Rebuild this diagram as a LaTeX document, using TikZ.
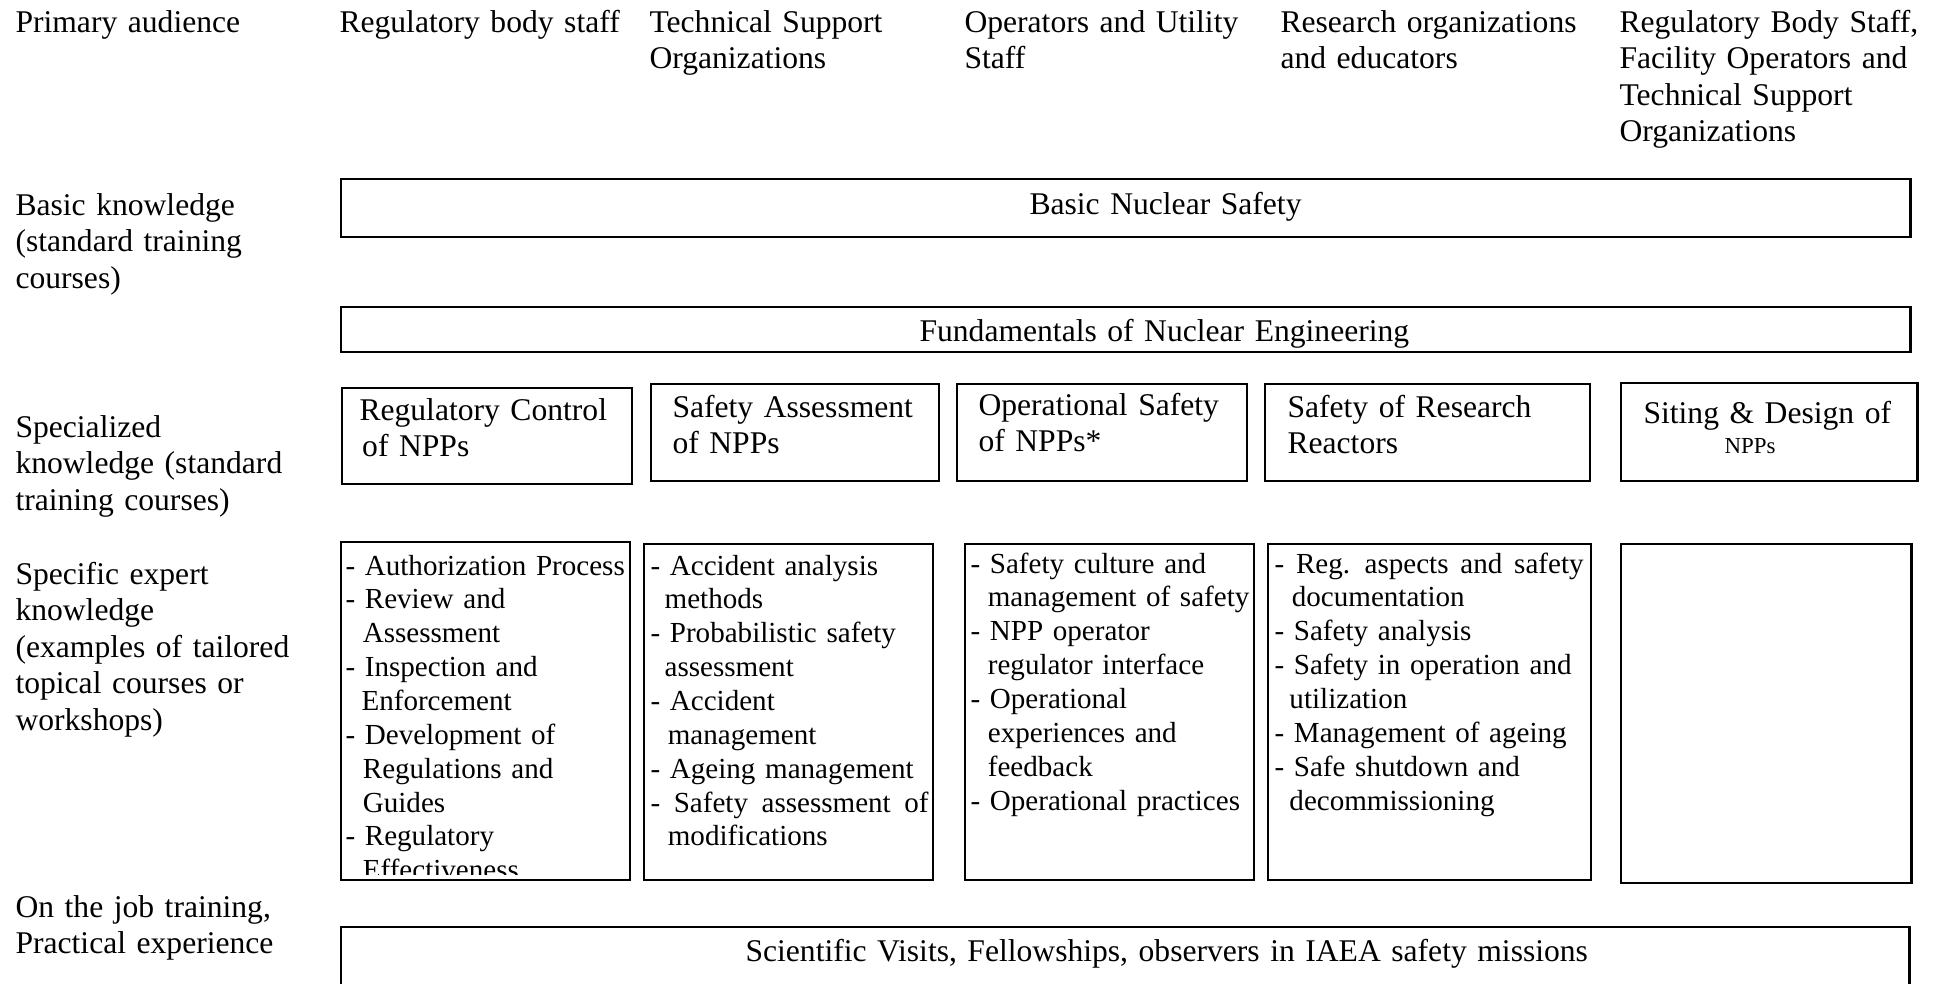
\documentclass[tikz,border=0pt]{standalone}
\usepackage{fontspec}
\setmainfont{Liberation Serif}

\newcommand{\itemgap}{\hspace*{6.5pt}}
\newcommand{\fullline}[2]{\makebox[#1][s]{\spaceskip=.25em plus 1em\relax #2}}

\tikzset{
  frame/.style={black, line width=1.1pt},
  txt/.style={anchor=base west, inner sep=0pt, align=left, text width=#1,
    font=\fontsize{11.85}{13.7}\selectfont},
  txt/.default=400pt,
  list/.style={txt=#1, font=\fontsize{10.9}{12.7}\selectfont},
  list/.default=130pt,
}

\begin{document}
\begin{tikzpicture}[x=0.375pt, y=-0.375pt]

      \useasboundingbox (0,0) rectangle (1935,983);
      \clip (0,0) rectangle (1935,983);

      \node[txt] (aud) at (15,32) {Primary audience};
      \node[txt] (audReg) at (339,32) {Regulatory body staff};
      \node[txt] (audTso) at (649,32) {Technical Support\\Organizations};
      \node[txt] (audOps) at (964,32) {Operators and Utility\\Staff};
      \node[txt] (audRes) at (1280,32) {Research organizations\\and educators};
      \node[txt] (audAll) at (1619,32) {Regulatory Body Staff,\\Facility Operators and\\Technical Support\\Organizations};

      \node[txt] (lvlBasic) at (15,215) {Basic knowledge\\(standard training\\courses)};
      \node[txt] (lvlSpec) at (15,437) {Specialized\\knowledge (standard\\training courses)};
      \node[txt] (lvlExpert) at (15,584) {Specific expert\\knowledge\\(examples of tailored\\topical courses or\\workshops)};
      \node[txt] (lvlJob) at (15,917) {On the job training,\\Practical experience};

      \draw[frame] (341,179) rectangle (1910,237);
      \node[txt] (bns) at (1029,214) {Basic Nuclear Safety};

      \draw[frame] (341,307) rectangle (1910,352);
      \node[txt] (fne) at (919,341) {Fundamentals of Nuclear Engineering};

      \draw[frame] (342,388) rectangle (632,484);
      \draw[frame] (651,384) rectangle (939,481);
      \draw[frame] (957,384) rectangle (1247,481);
      \draw[frame] (1265,384) rectangle (1590,481);
      \draw[frame] (1621,383) rectangle (1917,481);

      \node[txt] (crsReg) at (359,420) {Regulatory Control\\\hspace*{1pt}of NPPs};
      \node[txt] (crsSa) at (672,417) {Safety Assessment\\of NPPs};
      \node[txt] (crsOps) at (978,415) {Operational Safety\\of NPPs*};
      \node[txt] (crsRr) at (1287,417) {Safety of Research\\Reactors};
      \node[txt] (crsSit) at (1643,423) {Siting \& Design of};
      \node[txt, font=\fontsize{8.6}{10}\selectfont] (crsSitNpp) at (1724,453) {NPPs};

      \begin{scope}
        \clip (341,542) rectangle (630,874);
        \node[list] (topReg) at (345,575) {- Authorization Process\\- Review and\\\itemgap Assessment\\- Inspection and\\\hspace*{6pt}Enforcement\\- Development of\\\itemgap Regulations and\\\itemgap Guides\\- Regulatory\\\itemgap Effectiveness};
      \end{scope}
      \draw[frame] (341,542) rectangle (630,880);

      \draw[frame] (644,544) rectangle (933,880);
      \node[list=104.25pt] (topSa) at (650,575) {- Accident analysis\\\hspace*{5.3pt}methods\\- Probabilistic safety\\\hspace*{5.3pt}assessment\\- Accident\\\itemgap management\\- Ageing management\\\fullline{104.25pt}{- Safety assessment of}\\\itemgap modifications};

      \draw[frame] (965,544) rectangle (1254,880);
      \node[list] (topOps) at (970,573) {- Safety culture and\\\itemgap management of safety\\- NPP operator\\\itemgap regulator interface\\- Operational\\\itemgap experiences and\\\itemgap feedback\\- Operational practices};

      \draw[frame] (1268,544) rectangle (1591,880);
      \node[list=115.9pt] (topRr) at (1274,573) {\fullline{115.9pt}{- Reg. aspects and safety}\\\itemgap documentation\\- Safety analysis\\- Safety in operation and\\\hspace*{5.6pt}utilization\\- Management of ageing\\- Safe shutdown and\\\hspace*{5.6pt}decommissioning};

      \draw[frame] (1621,544) rectangle (1911,883);

      \draw[frame] (341,927) rectangle (1909,1010);
      \node[txt] (visits) at (745,961) {Scientific Visits, Fellowships, observers in IAEA safety missions};

\end{tikzpicture}
\end{document}
